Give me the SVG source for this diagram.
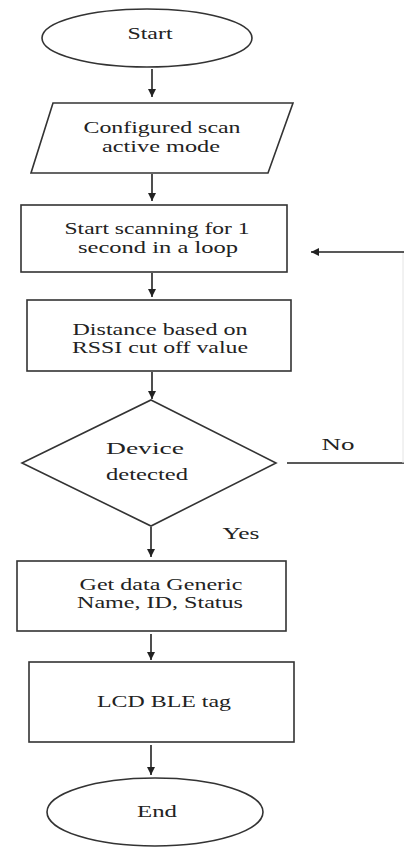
<svg xmlns="http://www.w3.org/2000/svg" width="404" height="848" viewBox="0 0 404 848">
<defs>
<marker id="ah" markerWidth="8" markerHeight="8" refX="8" refY="4" orient="auto" markerUnits="userSpaceOnUse">
<path d="M0,0 L8,4 L0,8 Z" fill="#222"/>
</marker>
<style>
.s{fill:#fff;stroke:#333;stroke-width:1.6}
.t{font-family:"Liberation Serif","Times New Roman",serif;font-size:17px;fill:#222;text-anchor:middle}
.c{fill:none;stroke:#222;stroke-width:1.6}
</style>
</defs>
<rect width="404" height="848" fill="#fff"/>
<g id="connectors">
<path class="c" d="M152,69 V97" marker-end="url(#ah)"/>
<path class="c" d="M152,174 V201" marker-end="url(#ah)"/>
<path class="c" d="M152,273 V297" marker-end="url(#ah)"/>
<path class="c" d="M152,372 V399" marker-end="url(#ah)"/>
<path class="c" d="M151,527 V557" marker-end="url(#ah)"/>
<path class="c" d="M151,634 V660" marker-end="url(#ah)"/>
<path class="c" d="M151,745 V775" marker-end="url(#ah)"/>
<path class="c" d="M287,463 H404"/>
<path d="M403,463 V252" fill="none" stroke="#e4e4e4" stroke-width="1"/>
<path class="c" d="M404,252 H311" marker-end="url(#ah)"/>
<text class="t" x="338" y="450" textLength="33" lengthAdjust="spacingAndGlyphs">No</text>
<text class="t" x="241" y="539" textLength="37" lengthAdjust="spacingAndGlyphs">Yes</text>
</g>
<g id="start">
<ellipse class="s" cx="147" cy="38" rx="105" ry="29"/>
<text class="t" x="150" y="39" textLength="45" lengthAdjust="spacingAndGlyphs">Start</text>
</g>
<g id="configure">
<polygon class="s" points="53,103 293,103 268,173 31,173"/>
<text class="t" x="162" y="133" textLength="157" lengthAdjust="spacingAndGlyphs">Configured scan</text>
<text class="t" x="161" y="152" textLength="118" lengthAdjust="spacingAndGlyphs">active mode</text>
</g>
<g id="scan">
<rect class="s" x="21" y="205" width="266" height="67"/>
<text class="t" x="157" y="234" textLength="185" lengthAdjust="spacingAndGlyphs">Start scanning for 1</text>
<text class="t" x="158" y="253" textLength="160" lengthAdjust="spacingAndGlyphs">second in a loop</text>
</g>
<g id="distance">
<rect class="s" x="27" y="300" width="264" height="71"/>
<text class="t" x="160" y="335" textLength="175" lengthAdjust="spacingAndGlyphs">Distance based on</text>
<text class="t" x="160" y="353" textLength="176" lengthAdjust="spacingAndGlyphs">RSSI cut off value</text>
</g>
<g id="detected">
<polygon class="s" points="151,400 276,463 151,526 22,463"/>
<text class="t" x="145" y="454" textLength="78" lengthAdjust="spacingAndGlyphs">Device</text>
<text class="t" x="147" y="480" textLength="82" lengthAdjust="spacingAndGlyphs">detected</text>
</g>
<g id="getdata">
<rect class="s" x="17" y="561" width="269" height="70"/>
<text class="t" x="161" y="590" textLength="163" lengthAdjust="spacingAndGlyphs">Get data Generic</text>
<text class="t" x="160" y="608" textLength="166" lengthAdjust="spacingAndGlyphs">Name, ID, Status</text>
</g>
<g id="lcd">
<rect class="s" x="29" y="662" width="265" height="80"/>
<text class="t" x="164" y="707" textLength="134" lengthAdjust="spacingAndGlyphs">LCD BLE tag</text>
</g>
<g id="end">
<ellipse class="s" cx="155" cy="812" rx="108" ry="34"/>
<text class="t" x="157" y="817" textLength="40" lengthAdjust="spacingAndGlyphs">End</text>
</g>
</svg>
